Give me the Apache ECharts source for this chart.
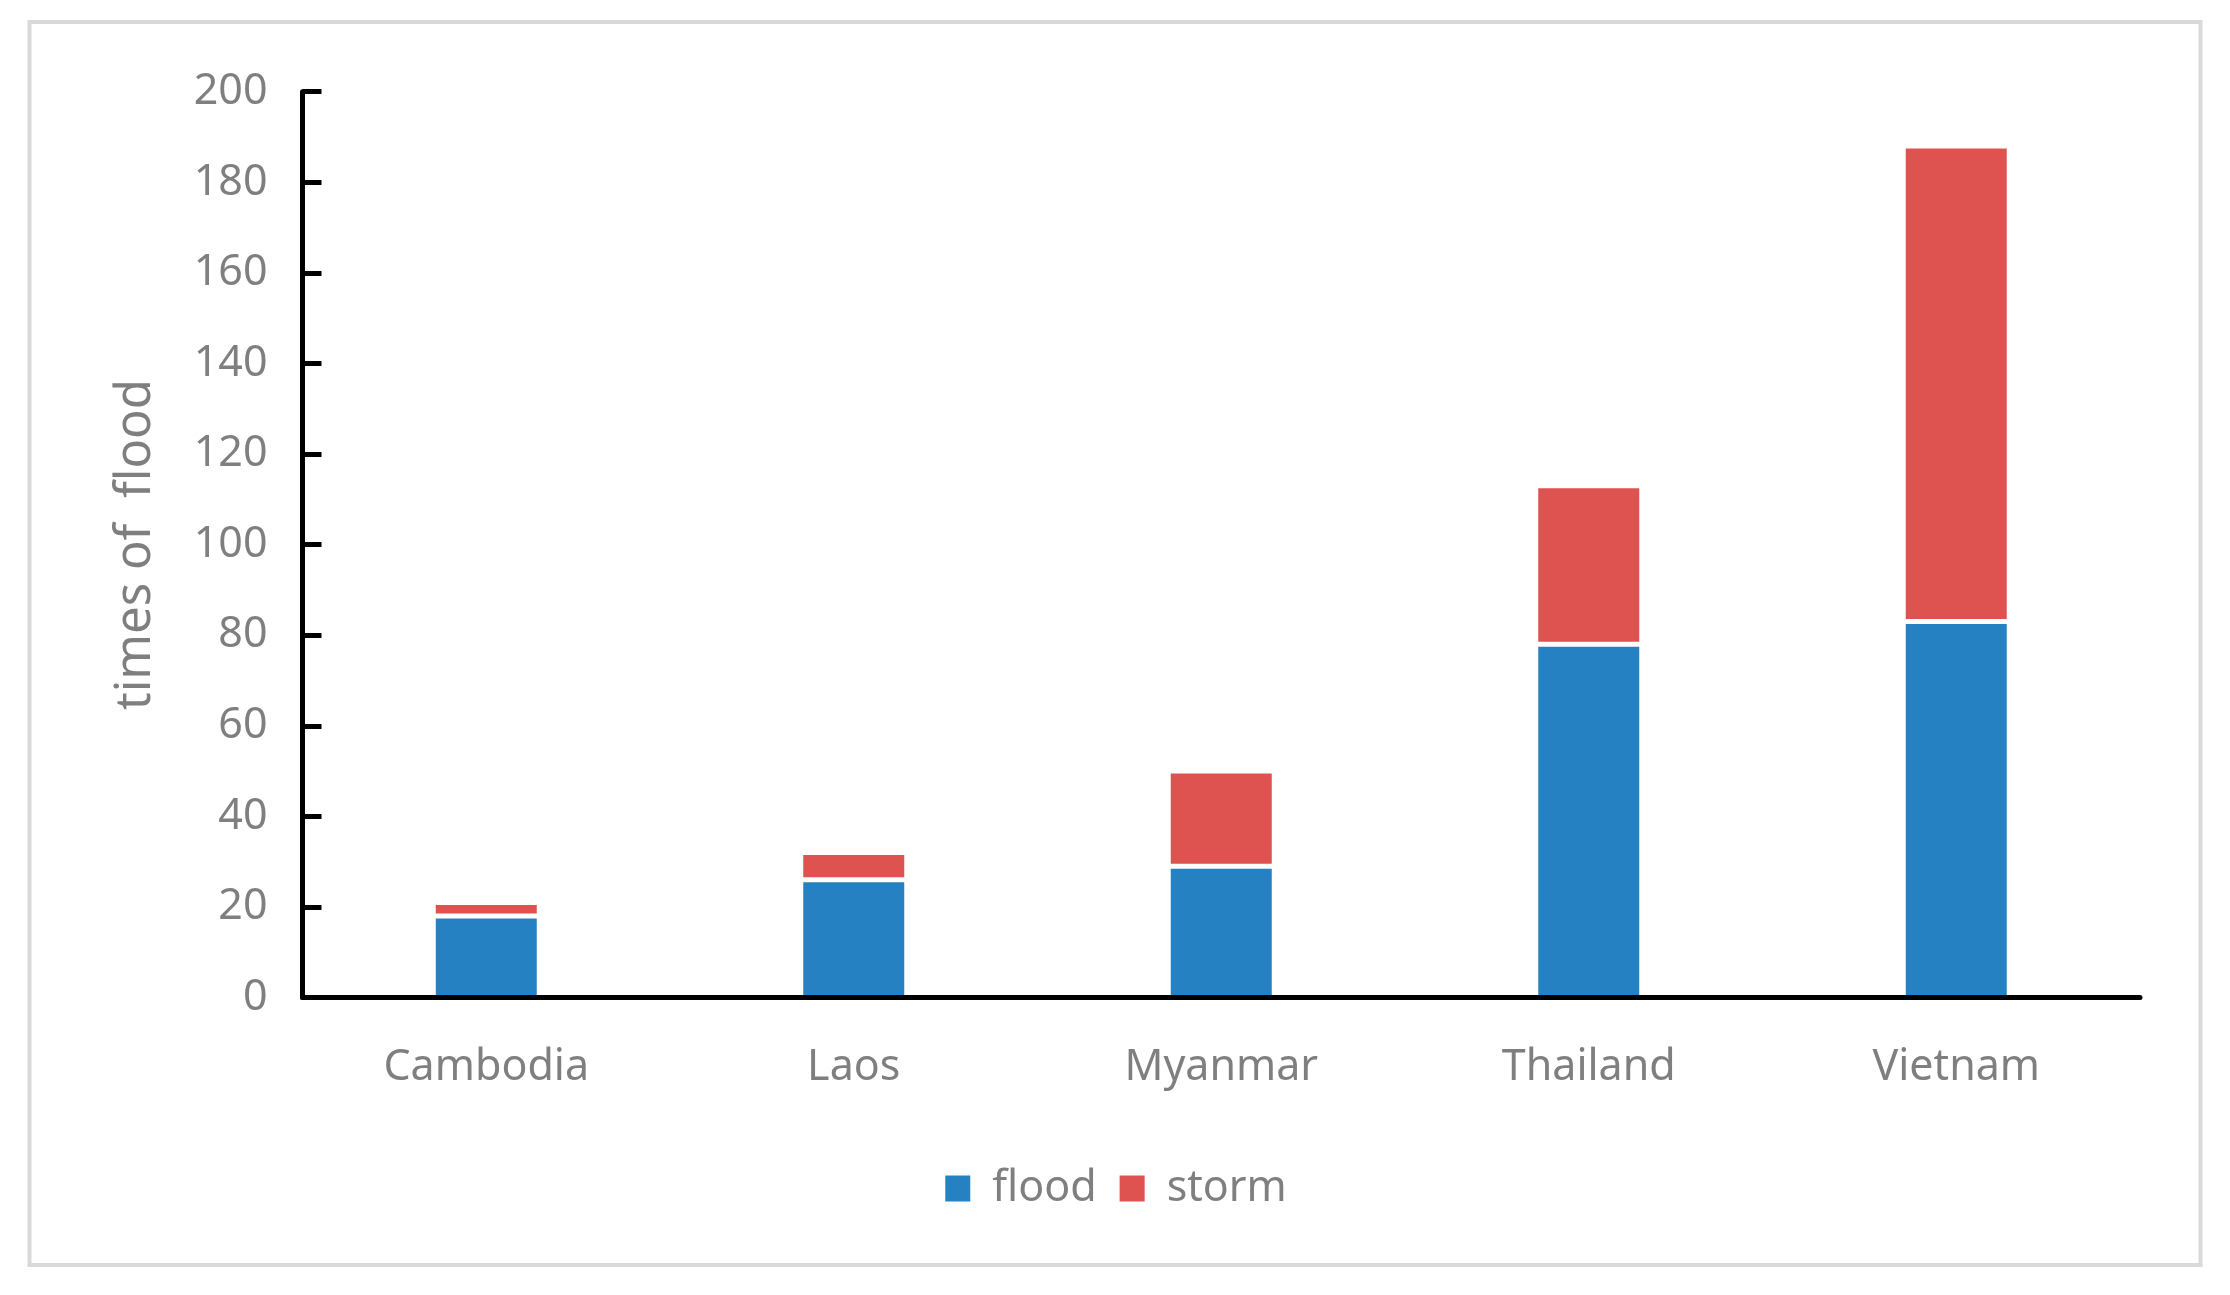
<!DOCTYPE html>
<html>
<head>
<meta charset="utf-8">
<script src="https://cdn.jsdelivr.net/npm/echarts@6/dist/echarts.min.js"></script>
<style>
html,body{margin:0;padding:0;background:#fff;}
#chart{width:2230px;height:1295px;}
</style>
</head>
<body>
<div id="chart"></div>
<script>
var categories = ['Cambodia', 'Laos', 'Myanmar', 'Thailand', 'Vietnam'];
var floodValues = [18, 26, 29, 78, 83];
var stormValues = [3, 6, 21, 35, 105];
var yAxisName = 'times of  flood';
var seriesNames = ['flood', 'storm'];

var FONT = 'Noto Sans';
var GREY = '#7F7F7F';

var chart = echarts.init(document.getElementById('chart'), null, {renderer: 'canvas'});
chart.setOption({
  backgroundColor: '#fff',
  animation: false,
  graphic: [{
    type: 'rect',
    z: -10,
    shape: {x: 29.5, y: 22, width: 2171, height: 1243},
    style: {fill: 'none', stroke: '#D9D9D9', lineWidth: 4}
  }],
  grid: {left: 302.5, right: 90, top: 91.7, bottom: 297.5, containLabel: false},
  legend: {
    data: seriesNames,
    left: 'center',
    top: 1162,
    itemWidth: 27,
    itemHeight: 28,
    itemGap: 21,
    icon: 'rect',
    textStyle: {fontFamily: FONT, fontSize: 43, color: GREY, padding: [0, 0, 0, 16]}
  },
  xAxis: {
    type: 'category',
    data: categories,
    z: 10,
    axisLine: {lineStyle: {color: '#000', width: 5}},
    axisTick: {show: false},
    axisLabel: {fontFamily: FONT, fontSize: 43, color: GREY, margin: 49},
    splitLine: {show: false}
  },
  yAxis: {
    type: 'value',
    min: 0,
    max: 200,
    interval: 20,
    z: 10,
    name: yAxisName,
    nameLocation: 'middle',
    nameGap: 142,
    nameTextStyle: {fontFamily: FONT, fontSize: 49, color: GREY},
    axisLine: {show: true, lineStyle: {color: '#000', width: 5}},
    axisTick: {show: true, inside: true, length: 19, lineStyle: {color: '#000', width: 5}},
    axisLabel: {fontFamily: FONT, fontSize: 43, color: GREY, margin: 35, padding: [7, 0, 0, 0]},
    splitLine: {show: false}
  },
  series: [
    {
      name: seriesNames[0],
      type: 'bar',
      stack: 'total',
      data: floodValues,
      barWidth: 106,
      itemStyle: {color: '#2581C1', borderColor: '#fff', borderWidth: 2.5}
    },
    {
      name: seriesNames[1],
      type: 'bar',
      stack: 'total',
      data: stormValues,
      barWidth: 106,
      itemStyle: {color: '#DE5250', borderColor: '#fff', borderWidth: 2.5}
    }
  ]
});
</script>
</body>
</html>
